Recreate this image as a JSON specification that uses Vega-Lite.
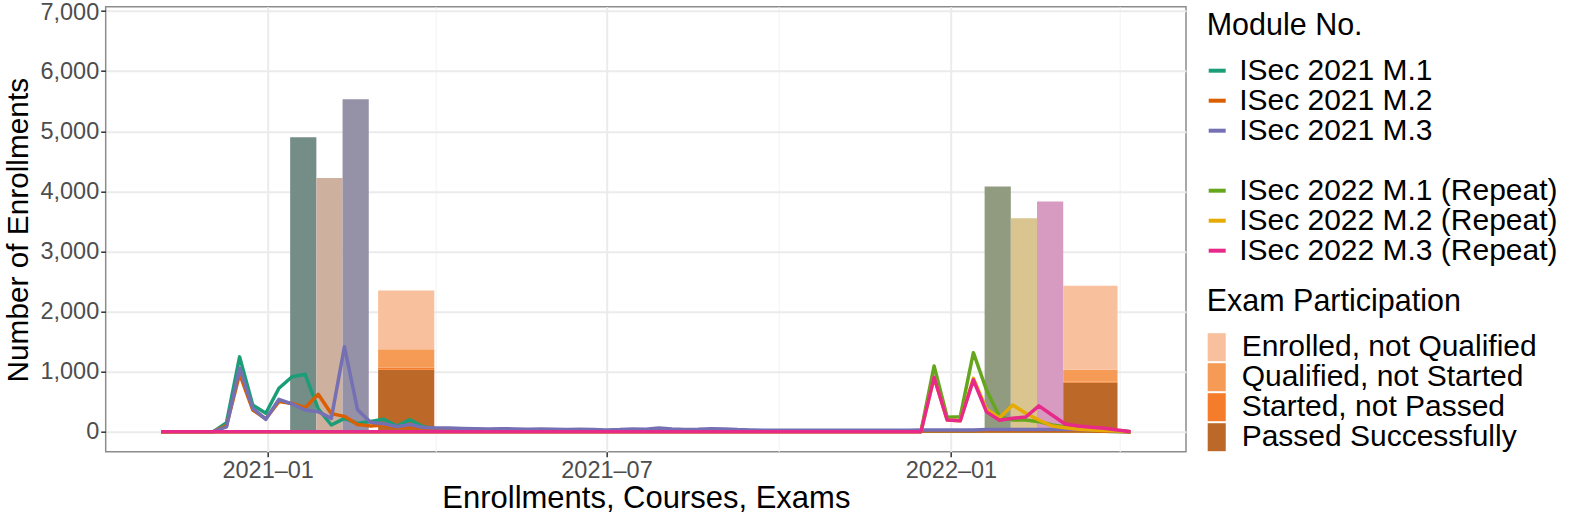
{
  "$schema": "https://vega.github.io/schema/vega-lite/v6.json",
  "width": 1080.3,
  "height": 445,
  "autosize": {"type": "none"},
  "padding": {"left": 105.7, "top": 6.7, "right": 401.7, "bottom": 68.3},
  "background": "white",
  "config": {
    "font": "Liberation Sans",
    "view": {"stroke": "#8c8c8c", "strokeWidth": 1.5},
    "axis": {
      "labelFont": "Liberation Sans",
      "titleFont": "Liberation Sans",
      "labelColor": "#4d4d4d",
      "labelFontSize": 23.5,
      "titleFontSize": 31,
      "titleFontWeight": "normal",
      "titleColor": "black",
      "tickColor": "#333333",
      "tickWidth": 1.5,
      "tickSize": 5,
      "domain": false,
      "labelPadding": 2
    },
    "legend": {
      "labelFont": "Liberation Sans",
      "titleFont": "Liberation Sans",
      "labelFontSize": 30,
      "titleFontSize": 30.5,
      "titleFontWeight": "normal",
      "titleColor": "black",
      "labelColor": "black",
      "labelLimit": 400,
      "titleLimit": 400
    }
  },
  "datasets": {
    "names": [
      {"key": "m1", "module": "ISec 2021 M.1"},
      {"key": "m2", "module": "ISec 2021 M.2"},
      {"key": "m3", "module": "ISec 2021 M.3"},
      {"key": "r1", "module": "ISec 2022 M.1 (Repeat)"},
      {"key": "r2", "module": "ISec 2022 M.2 (Repeat)"},
      {"key": "r3", "module": "ISec 2022 M.3 (Repeat)"}
    ],
    "bars": [
      {"start": "2021-01-13", "end": "2021-01-27", "lo": 0, "hi": 4900, "cat": "ISec 2021 M.1"},
      {"start": "2021-01-27", "end": "2021-02-10", "lo": 0, "hi": 4220, "cat": "ISec 2021 M.2"},
      {"start": "2021-02-10", "end": "2021-02-24", "lo": 0, "hi": 5530, "cat": "ISec 2021 M.3"},
      {"start": "2021-03-01", "end": "2021-03-31", "lo": 0, "hi": 1030, "cat": "Passed Successfully"},
      {"start": "2021-03-01", "end": "2021-03-31", "lo": 1030, "hi": 1070, "cat": "Started, not Passed"},
      {"start": "2021-03-01", "end": "2021-03-31", "lo": 1070, "hi": 1370, "cat": "Qualified, not Started"},
      {"start": "2021-03-01", "end": "2021-03-31", "lo": 1370, "hi": 2350, "cat": "Enrolled, not Qualified"},
      {"start": "2022-01-19", "end": "2022-02-02", "lo": 0, "hi": 4080, "cat": "ISec 2022 M.1 (Repeat)"},
      {"start": "2022-02-02", "end": "2022-02-16", "lo": 0, "hi": 3550, "cat": "ISec 2022 M.2 (Repeat)"},
      {"start": "2022-02-16", "end": "2022-03-02", "lo": 0, "hi": 3830, "cat": "ISec 2022 M.3 (Repeat)"},
      {"start": "2022-03-02", "end": "2022-03-31", "lo": 0, "hi": 815, "cat": "Passed Successfully"},
      {"start": "2022-03-02", "end": "2022-03-31", "lo": 815, "hi": 832, "cat": "Started, not Passed"},
      {"start": "2022-03-02", "end": "2022-03-31", "lo": 832, "hi": 1030, "cat": "Qualified, not Started"},
      {"start": "2022-03-02", "end": "2022-03-31", "lo": 1030, "hi": 2430, "cat": "Enrolled, not Qualified"}
    ],
    "weekly": [
      {"d": "2020-11-05", "m1": 0, "m2": 0, "m3": 0, "r1": 0, "r2": 0, "r3": 0},
      {"d": "2020-11-12", "m1": 0, "m2": 0, "m3": 0, "r1": 0, "r2": 0, "r3": 0},
      {"d": "2020-11-19", "m1": 0, "m2": 0, "m3": 0, "r1": 0, "r2": 0, "r3": 0},
      {"d": "2020-11-26", "m1": 0, "m2": 0, "m3": 0, "r1": 0, "r2": 0, "r3": 0},
      {"d": "2020-12-03", "m1": 0, "m2": 0, "m3": 0, "r1": 0, "r2": 0, "r3": 0},
      {"d": "2020-12-10", "m1": 150, "m2": 100, "m3": 80, "r1": 0, "r2": 0, "r3": 0},
      {"d": "2020-12-17", "m1": 1245, "m2": 960, "m3": 1060, "r1": 0, "r2": 0, "r3": 0},
      {"d": "2020-12-24", "m1": 444, "m2": 361, "m3": 389, "r1": 0, "r2": 0, "r3": 0},
      {"d": "2020-12-31", "m1": 306, "m2": 215, "m3": 206, "r1": 0, "r2": 0, "r3": 0},
      {"d": "2021-01-07", "m1": 722, "m2": 500, "m3": 539, "r1": 0, "r2": 0, "r3": 0},
      {"d": "2021-01-14", "m1": 915, "m2": 470, "m3": 461, "r1": 0, "r2": 0, "r3": 0},
      {"d": "2021-01-21", "m1": 955, "m2": 400, "m3": 361, "r1": 0, "r2": 0, "r3": 0},
      {"d": "2021-01-28", "m1": 380, "m2": 622, "m3": 333, "r1": 0, "r2": 0, "r3": 0},
      {"d": "2021-02-04", "m1": 111, "m2": 300, "m3": 222, "r1": 0, "r2": 0, "r3": 0},
      {"d": "2021-02-11", "m1": 222, "m2": 255, "m3": 1415, "r1": 0, "r2": 0, "r3": 0},
      {"d": "2021-02-18", "m1": 139, "m2": 120, "m3": 365, "r1": 0, "r2": 0, "r3": 0},
      {"d": "2021-02-25", "m1": 170, "m2": 95, "m3": 155, "r1": 0, "r2": 0, "r3": 0},
      {"d": "2021-03-04", "m1": 206, "m2": 110, "m3": 134, "r1": 0, "r2": 0, "r3": 0},
      {"d": "2021-03-11", "m1": 95, "m2": 72, "m3": 83, "r1": 0, "r2": 0, "r3": 0},
      {"d": "2021-03-18", "m1": 200, "m2": 83, "m3": 120, "r1": 0, "r2": 0, "r3": 0},
      {"d": "2021-03-25", "m1": 83, "m2": 62, "m3": 70, "r1": 0, "r2": 0, "r3": 0},
      {"d": "2021-04-01", "m1": 50, "m2": 40, "m3": 60, "r1": 0, "r2": 0, "r3": 0},
      {"d": "2021-04-08", "m1": 45, "m2": 40, "m3": 60, "r1": 0, "r2": 0, "r3": 0},
      {"d": "2021-04-15", "m1": 40, "m2": 35, "m3": 55, "r1": 0, "r2": 0, "r3": 0},
      {"d": "2021-04-22", "m1": 35, "m2": 30, "m3": 50, "r1": 0, "r2": 0, "r3": 0},
      {"d": "2021-04-29", "m1": 30, "m2": 28, "m3": 45, "r1": 0, "r2": 0, "r3": 0},
      {"d": "2021-05-06", "m1": 30, "m2": 28, "m3": 50, "r1": 0, "r2": 0, "r3": 0},
      {"d": "2021-05-13", "m1": 28, "m2": 25, "m3": 45, "r1": 0, "r2": 0, "r3": 0},
      {"d": "2021-05-20", "m1": 25, "m2": 22, "m3": 40, "r1": 0, "r2": 0, "r3": 0},
      {"d": "2021-05-27", "m1": 25, "m2": 22, "m3": 45, "r1": 0, "r2": 0, "r3": 0},
      {"d": "2021-06-03", "m1": 22, "m2": 20, "m3": 40, "r1": 0, "r2": 0, "r3": 0},
      {"d": "2021-06-10", "m1": 20, "m2": 18, "m3": 35, "r1": 0, "r2": 0, "r3": 0},
      {"d": "2021-06-17", "m1": 20, "m2": 18, "m3": 40, "r1": 0, "r2": 0, "r3": 0},
      {"d": "2021-06-24", "m1": 18, "m2": 16, "m3": 35, "r1": 0, "r2": 0, "r3": 0},
      {"d": "2021-07-01", "m1": 16, "m2": 15, "m3": 30, "r1": 0, "r2": 0, "r3": 0},
      {"d": "2021-07-08", "m1": 16, "m2": 15, "m3": 35, "r1": 0, "r2": 0, "r3": 0},
      {"d": "2021-07-15", "m1": 18, "m2": 16, "m3": 45, "r1": 0, "r2": 0, "r3": 0},
      {"d": "2021-07-22", "m1": 16, "m2": 15, "m3": 40, "r1": 0, "r2": 0, "r3": 0},
      {"d": "2021-07-29", "m1": 22, "m2": 18, "m3": 60, "r1": 0, "r2": 0, "r3": 0},
      {"d": "2021-08-05", "m1": 18, "m2": 16, "m3": 45, "r1": 0, "r2": 0, "r3": 0},
      {"d": "2021-08-12", "m1": 15, "m2": 14, "m3": 35, "r1": 0, "r2": 0, "r3": 0},
      {"d": "2021-08-19", "m1": 15, "m2": 14, "m3": 40, "r1": 0, "r2": 0, "r3": 0},
      {"d": "2021-08-26", "m1": 18, "m2": 15, "m3": 50, "r1": 0, "r2": 0, "r3": 0},
      {"d": "2021-09-02", "m1": 16, "m2": 14, "m3": 45, "r1": 0, "r2": 0, "r3": 0},
      {"d": "2021-09-09", "m1": 14, "m2": 12, "m3": 35, "r1": 0, "r2": 0, "r3": 0},
      {"d": "2021-09-16", "m1": 12, "m2": 10, "m3": 30, "r1": 0, "r2": 0, "r3": 0},
      {"d": "2021-09-23", "m1": 10, "m2": 10, "m3": 25, "r1": 0, "r2": 0, "r3": 0},
      {"d": "2021-09-30", "m1": 10, "m2": 10, "m3": 25, "r1": 0, "r2": 0, "r3": 0},
      {"d": "2021-10-07", "m1": 10, "m2": 10, "m3": 25, "r1": 0, "r2": 0, "r3": 0},
      {"d": "2021-10-14", "m1": 10, "m2": 10, "m3": 25, "r1": 0, "r2": 0, "r3": 0},
      {"d": "2021-10-21", "m1": 10, "m2": 10, "m3": 25, "r1": 0, "r2": 0, "r3": 0},
      {"d": "2021-10-28", "m1": 10, "m2": 10, "m3": 25, "r1": 0, "r2": 0, "r3": 0},
      {"d": "2021-11-04", "m1": 10, "m2": 10, "m3": 25, "r1": 0, "r2": 0, "r3": 0},
      {"d": "2021-11-11", "m1": 10, "m2": 10, "m3": 25, "r1": 0, "r2": 0, "r3": 0},
      {"d": "2021-11-18", "m1": 10, "m2": 10, "m3": 25, "r1": 0, "r2": 0, "r3": 0},
      {"d": "2021-11-25", "m1": 10, "m2": 10, "m3": 25, "r1": 0, "r2": 0, "r3": 0},
      {"d": "2021-12-02", "m1": 10, "m2": 10, "m3": 25, "r1": 0, "r2": 0, "r3": 0},
      {"d": "2021-12-09", "m1": 10, "m2": 10, "m3": 25, "r1": 0, "r2": 0, "r3": 0},
      {"d": "2021-12-16", "m1": 10, "m2": 10, "m3": 28, "r1": 0, "r2": 0, "r3": 0},
      {"d": "2021-12-23", "m1": 10, "m2": 10, "m3": 28, "r1": 1093, "r2": 900, "r3": 905},
      {"d": "2021-12-30", "m1": 10, "m2": 10, "m3": 28, "r1": 240, "r2": 195, "r3": 195},
      {"d": "2022-01-06", "m1": 10, "m2": 10, "m3": 28, "r1": 250, "r2": 183, "r3": 183},
      {"d": "2022-01-13", "m1": 10, "m2": 10, "m3": 28, "r1": 1315, "r2": 888, "r3": 860},
      {"d": "2022-01-20", "m1": 15, "m2": 12, "m3": 38, "r1": 694, "r2": 375, "r3": 330},
      {"d": "2022-01-27", "m1": 15, "m2": 12, "m3": 38, "r1": 250, "r2": 230, "r3": 190},
      {"d": "2022-02-03", "m1": 15, "m2": 12, "m3": 38, "r1": 195, "r2": 444, "r3": 222},
      {"d": "2022-02-10", "m1": 15, "m2": 12, "m3": 38, "r1": 195, "r2": 306, "r3": 245},
      {"d": "2022-02-17", "m1": 15, "m2": 12, "m3": 38, "r1": 167, "r2": 195, "r3": 430},
      {"d": "2022-02-24", "m1": 15, "m2": 12, "m3": 38, "r1": 111, "r2": 95, "r3": 278},
      {"d": "2022-03-03", "m1": 15, "m2": 12, "m3": 38, "r1": 83, "r2": 67, "r3": 128},
      {"d": "2022-03-10", "m1": 15, "m2": 12, "m3": 38, "r1": 56, "r2": 39, "r3": 95},
      {"d": "2022-03-17", "m1": 12, "m2": 10, "m3": 30, "r1": 45, "r2": 30, "r3": 72},
      {"d": "2022-03-24", "m1": 8, "m2": 8, "m3": 22, "r1": 30, "r2": 20, "r3": 56},
      {"d": "2022-03-31", "m1": 5, "m2": 5, "m3": 12, "r1": 15, "r2": 10, "r3": 28},
      {"d": "2022-04-07", "m1": 0, "m2": 0, "m3": 0, "r1": 0, "r2": 0, "r3": 0}
    ]
  },
  "layer": [
    {
      "data": {"name": "bars"},
      "mark": {"type": "bar", "strokeWidth": 0},
      "encoding": {
        "x": {
          "field": "start",
          "type": "temporal",
          "title": "Enrollments, Courses, Exams",
          "scale": {
            "type": "utc",
            "domain": [
              {"year": 2020, "month": 10, "date": 6, "hours": 11, "utc": true},
              {"year": 2022, "month": 5, "date": 6, "hours": 14, "utc": true}
            ],
            "nice": false
          },
          "axis": {
            "values": [
              {"year": 2021, "month": 1, "date": 1, "utc": true},
              {"year": 2021, "month": 4, "date": 1, "utc": true},
              {"year": 2021, "month": 7, "date": 1, "utc": true},
              {"year": 2021, "month": 10, "date": 1, "utc": true},
              {"year": 2022, "month": 1, "date": 1, "utc": true},
              {"year": 2022, "month": 4, "date": 1, "utc": true}
            ],
            "labelExpr": "utcmonth(datum.value) % 6 === 0 ? utcFormat(datum.value, '%Y–%m') : ''",
            "tickOpacity": {"condition": {"test": "utcmonth(datum.value) % 6 === 3", "value": 0}, "value": 1},
            "gridWidth": {"condition": {"test": "utcmonth(datum.value) % 6 === 3", "value": 1}, "value": 2},
            "gridColor": {"condition": {"test": "utcmonth(datum.value) % 6 === 3", "value": "#f2f2f2"}, "value": "#ebebeb"},
            "titleY": 56,
            "titleBaseline": "alphabetic"
          }
        },
        "x2": {"field": "end"},
        "y": {
          "field": "lo",
          "type": "quantitative",
          "title": "Number of Enrollments",
          "scale": {"domain": [-333, 7072], "nice": false, "zero": false},
          "axis": {
            "values": [0, 500, 1000, 1500, 2000, 2500, 3000, 3500, 4000, 4500, 5000, 5500, 6000, 6500, 7000],
            "labelExpr": "datum.value % 1000 === 0 ? format(datum.value, ',') : ''",
            "labelOffset": {"condition": {"test": "datum.value === 7000", "value": 1.5}, "value": 0},
            "tickOpacity": {"condition": {"test": "datum.value % 1000 !== 0", "value": 0}, "value": 1},
            "gridWidth": {"condition": {"test": "datum.value % 1000 !== 0", "value": 1}, "value": 2},
            "gridColor": {"condition": {"test": "datum.value % 1000 !== 0", "value": "#f2f2f2"}, "value": "#ebebeb"},
            "titleFontSize": 29.8,
            "titleAngle": 270,
            "titleX": -77.7,
            "titleY": 223,
            "titleAlign": "center",
            "titleBaseline": "alphabetic"
          }
        },
        "y2": {"field": "hi"},
        "fill": {
          "field": "cat",
          "type": "nominal",
          "scale": {
            "domain": ["Enrolled, not Qualified", "Qualified, not Started", "Started, not Passed", "Passed Successfully",
                       "ISec 2021 M.1", "ISec 2021 M.2", "ISec 2021 M.3",
                       "ISec 2022 M.1 (Repeat)", "ISec 2022 M.2 (Repeat)", "ISec 2022 M.3 (Repeat)"],
            "range": ["#f8c09c", "#f59b56", "#f47c2a", "#bb6829",
                      "#748d87", "#ceb09f", "#9592a7",
                      "#919b80", "#dac48f", "#d79bc1"]
          },
          "legend": {
            "title": "Exam Participation",
            "values": ["Enrolled, not Qualified", "Qualified, not Started", "Started, not Passed", "Passed Successfully"],
            "orient": "none",
            "legendX": 1101,
            "legendY": 280,
            "symbolType": "M-1,-1H0.29V1H-1Z",
            "symbolSize": 784,
            "symbolStrokeWidth": 0,
            "symbolOpacity": 1,
            "labelOffset": 5,
            "rowPadding": 0,
            "titlePadding": 15
          }
        }
      }
    },
    {
      "data": {"name": "weekly"},
      "transform": [
        {"fold": ["m1", "m2", "m3", "r1", "r2", "r3"], "as": ["key", "value"]},
        {"lookup": "key", "from": {"data": {"name": "names"}, "key": "key", "fields": ["module"]}}
      ],
      "mark": {"type": "line", "strokeWidth": 3.5, "strokeJoin": "round"},
      "encoding": {
        "x": {"field": "d", "type": "temporal"},
        "y": {"field": "value", "type": "quantitative"},
        "color": {
          "field": "module",
          "type": "nominal",
          "scale": {
            "domain": ["ISec 2021 M.1", "ISec 2021 M.2", "ISec 2021 M.3", " ",
                       "ISec 2022 M.1 (Repeat)", "ISec 2022 M.2 (Repeat)", "ISec 2022 M.3 (Repeat)"],
            "range": ["#1b9e77", "#d95f02", "#7570b3", "transparent", "#66a61e", "#e6ab02", "#e7298a"]
          },
          "legend": {
            "title": "Module No.",
            "orient": "none",
            "legendX": 1101,
            "legendY": 4.5,
            "symbolType": "stroke",
            "symbolSize": 289,
            "symbolStrokeWidth": 4,
            "symbolOffset": -4.5,
            "labelOffset": 7,
            "rowPadding": 0,
            "titlePadding": 14
          }
        }
      }
    }
  ]
}
